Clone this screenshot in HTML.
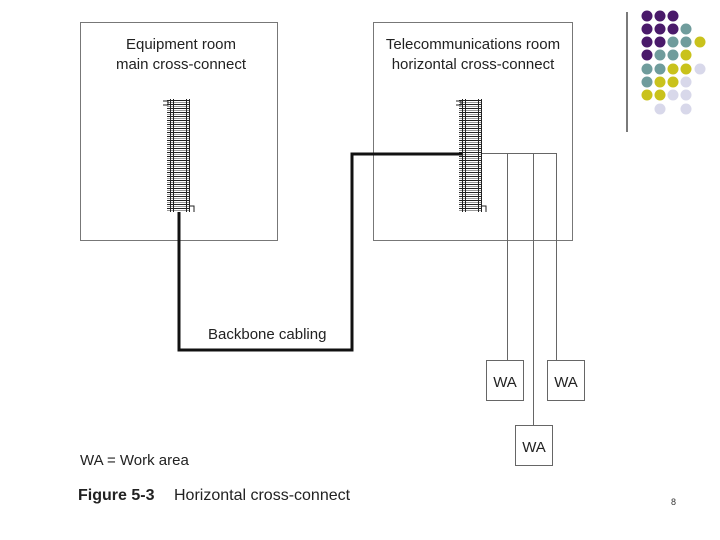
<!DOCTYPE html>
<html><head><meta charset="utf-8"><style>
html,body{margin:0;padding:0;background:#fff;}
svg{display:block;font-family:"Liberation Sans",sans-serif;}
</style></head><body>
<svg width="720" height="540" viewBox="0 0 720 540" xmlns="http://www.w3.org/2000/svg">
<defs>
<pattern id="rungs" x="0" y="100" width="20" height="4" patternUnits="userSpaceOnUse">
<rect x="0" y="0" width="20" height="1" fill="#222"/>
<rect x="0" y="2" width="20" height="1" fill="#999"/>
</pattern>
</defs>
<rect x="80.5" y="22.5" width="197" height="218" fill="none" stroke="#777" stroke-width="1"/>
<rect x="373.5" y="22.5" width="199" height="218" fill="none" stroke="#777" stroke-width="1"/>
<text x="181" y="49" font-size="15" text-anchor="middle" fill="#222">Equipment room</text>
<text x="181" y="69" font-size="15" text-anchor="middle" fill="#222">main cross-connect</text>
<text x="473" y="49" font-size="15" text-anchor="middle" fill="#222">Telecommunications room</text>
<text x="473" y="69" font-size="15" text-anchor="middle" fill="#222">horizontal cross-connect</text>
<g stroke="#222" stroke-width="1" fill="none">
<rect x="167" y="100" width="23" height="112" fill="url(#rungs)" stroke="none"/>
<line x1="170.5" y1="99" x2="170.5" y2="212"/><line x1="173.5" y1="99" x2="173.5" y2="212"/>
<line x1="186.5" y1="99" x2="186.5" y2="212"/><line x1="189.5" y1="99" x2="189.5" y2="212"/>
<path d="M163 101h5v4h-5"/><path d="M190 206h4v6"/>
</g>
<g stroke="#222" stroke-width="1" fill="none">
<rect x="459" y="100" width="23" height="112" fill="url(#rungs)" stroke="none"/>
<line x1="462.5" y1="99" x2="462.5" y2="212"/><line x1="465.5" y1="99" x2="465.5" y2="212"/>
<line x1="478.5" y1="99" x2="478.5" y2="212"/><line x1="481.5" y1="99" x2="481.5" y2="212"/>
<path d="M456 101h5v4h-5"/><path d="M482 206h4v6"/>
</g>
<path d="M179 212V350H352V154H462" fill="none" stroke="#111" stroke-width="3"/>
<text x="208" y="339" font-size="15" fill="#222">Backbone cabling</text>
<g stroke="#666" stroke-width="1" fill="none">
<path d="M482 153.5H556.5V360"/>
<line x1="507.5" y1="154" x2="507.5" y2="360"/>
<line x1="533.5" y1="154" x2="533.5" y2="425"/>
<rect x="486.5" y="360.5" width="37" height="40"/>
<rect x="547.5" y="360.5" width="37" height="40"/>
<rect x="515.5" y="425.5" width="37" height="40"/>
</g>
<text x="505" y="387" font-size="15" text-anchor="middle" fill="#222">WA</text>
<text x="566" y="387" font-size="15" text-anchor="middle" fill="#222">WA</text>
<text x="534" y="452" font-size="15" text-anchor="middle" fill="#222">WA</text>
<text x="80" y="465" font-size="15" fill="#222">WA = Work area</text>
<text x="78" y="500" font-size="16" font-weight="bold" fill="#222">Figure 5-3</text>
<text x="174" y="500" font-size="16" fill="#222">Horizontal cross-connect</text>
<text x="671" y="505" font-size="9" fill="#333">8</text>
<line x1="627" y1="12" x2="627" y2="132" stroke="#222" stroke-width="1.2"/>
<g>
<circle cx="647" cy="16" r="5.5" fill="#4a1a6a"/><circle cx="660" cy="16" r="5.5" fill="#4a1a6a"/><circle cx="673" cy="16" r="5.5" fill="#4a1a6a"/>
<circle cx="647" cy="29" r="5.5" fill="#4a1a6a"/><circle cx="660" cy="29" r="5.5" fill="#4a1a6a"/><circle cx="673" cy="29" r="5.5" fill="#4a1a6a"/><circle cx="686" cy="29" r="5.5" fill="#6f9c9c"/>
<circle cx="647" cy="42" r="5.5" fill="#4a1a6a"/><circle cx="660" cy="42" r="5.5" fill="#4a1a6a"/><circle cx="673" cy="42" r="5.5" fill="#6f9c9c"/><circle cx="686" cy="42" r="5.5" fill="#6f9c9c"/><circle cx="700" cy="42" r="5.5" fill="#c9c21c"/>
<circle cx="647" cy="55" r="5.5" fill="#4a1a6a"/><circle cx="660" cy="55" r="5.5" fill="#6f9c9c"/><circle cx="673" cy="55" r="5.5" fill="#6f9c9c"/><circle cx="686" cy="55" r="5.5" fill="#c9c21c"/>
<circle cx="647" cy="69" r="5.5" fill="#6f9c9c"/><circle cx="660" cy="69" r="5.5" fill="#6f9c9c"/><circle cx="673" cy="69" r="5.5" fill="#c9c21c"/><circle cx="686" cy="69" r="5.5" fill="#c9c21c"/><circle cx="700" cy="69" r="5.5" fill="#d8d8ea"/>
<circle cx="647" cy="82" r="5.5" fill="#6f9c9c"/><circle cx="660" cy="82" r="5.5" fill="#c9c21c"/><circle cx="673" cy="82" r="5.5" fill="#c9c21c"/><circle cx="686" cy="82" r="5.5" fill="#d8d8ea"/>
<circle cx="647" cy="95" r="5.5" fill="#c9c21c"/><circle cx="660" cy="95" r="5.5" fill="#c9c21c"/><circle cx="673" cy="95" r="5.5" fill="#d8d8ea"/><circle cx="686" cy="95" r="5.5" fill="#d8d8ea"/>
<circle cx="660" cy="109" r="5.5" fill="#d8d8ea"/><circle cx="686" cy="109" r="5.5" fill="#d8d8ea"/>
</g>
</svg>
</body></html>
